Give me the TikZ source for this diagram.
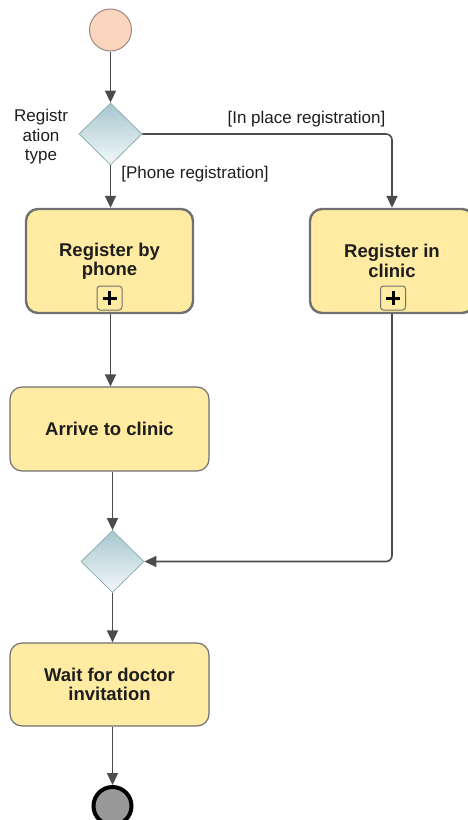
\documentclass[tikz,border=0pt]{standalone}
\usepackage{fontspec}
\setmainfont{Liberation Sans}
\usetikzlibrary{arrows.meta,shapes.geometric}
\definecolor{taskfill}{HTML}{FFEBA2}
\definecolor{taskline}{HTML}{707070}
\definecolor{gwtop}{HTML}{A7C7CF}
\definecolor{gwbot}{HTML}{F3F8F9}
\definecolor{gwline}{HTML}{8FAEB5}
\definecolor{startfill}{HTML}{FBD5BE}
\definecolor{startline}{HTML}{9A8A80}
\definecolor{flow}{HTML}{4C4C4C}
\definecolor{txt}{HTML}{1E1E1E}
\tikzset{
  tasktext/.style={font=\bfseries\fontsize{18.5}{19.5}\selectfont, text=txt, align=center},
  taskthick/.style={tasktext, draw=taskline, fill=taskfill, line width=2.4pt, rounded corners=12pt, minimum height=104pt},
  taskthin/.style={tasktext, draw=taskline, fill=taskfill, line width=1.2pt, rounded corners=12pt, minimum width=199pt, minimum height=84pt},
  gateway/.style={diamond, aspect=1, inner sep=0pt, minimum width=63pt, minimum height=62pt, draw=gwline, line width=0.8pt, top color=gwtop, bottom color=gwbot},
  plusbox/.style={draw=taskline, fill=taskfill, line width=1pt, rounded corners=3pt, minimum width=25pt, minimum height=24pt, inner sep=0pt},
  flowline/.style={draw=flow, line width=1.6pt, -{Triangle[length=12pt,width=11pt]}},
  guard/.style={font=\fontsize{17}{19}\selectfont, text=txt, inner sep=0pt}
}
\begin{document}
\begin{tikzpicture}[x=1pt,y=-1pt]
\useasboundingbox (0,0) rectangle (467,820);
% start and end
\node[circle, draw=startline, fill=startfill, line width=1pt, minimum size=42pt, inner sep=0pt] (start) at (110.5,30) {};
\node[circle, draw=black, fill=gray!80, line width=4pt, minimum size=38pt, inner sep=0pt] (end) at (112.5,806) {};
% gateways
\node[gateway] (d1) at (110.5,134) {};
\node[gateway] (d2) at (112.5,561.5) {};
\node[guard, align=center, font=\fontsize{17}{19.5}\selectfont] (dlabel) at (41,137) {Registr\\ation\\type};
% tasks
\node[taskthick, minimum width=167pt] (phone) at (109.5,261) {Register by\\phone};
\node[taskthick, minimum width=164pt] (clinic) at (392,261) {Register in\\clinic};
\node[taskthin] (arrive) at (109.5,429) {Arrive to clinic};
\node[taskthin, minimum height=83pt] (wait) at (109.5,684.5) {Wait for doctor\\invitation};
% plus markers
\node[plusbox] (plus1) at (109.5,298) {};
\node[plusbox] (plus2) at (393,298) {};
\foreach \p in {plus1,plus2}{
  \draw[line width=3pt, black] ([xshift=-7pt]\p.center) -- ([xshift=7pt]\p.center);
  \draw[line width=3pt, black] ([yshift=-7pt]\p.center) -- ([yshift=7pt]\p.center);
}
% flows
\draw[flowline] (start.south) -- (d1.north);
\draw[flowline] (d1.south) -- (d1.south |- phone.north);
\draw[flowline, rounded corners=6pt] (d1.east) -| (clinic.north);
\draw[flowline] (phone.south -| d1.south) -- (d1.south |- arrive.north);
\draw[flowline] (d2.north |- arrive.south) -- (d2.north);
\draw[flowline, rounded corners=6pt] (clinic.south) |- (d2.east);
\draw[flowline] (d2.south) -- (d2.south |- wait.north);
\draw[flowline] (end.north |- wait.south) -- (end.north);
% guards
\node[guard] (g1) at (306.5,119) {[In place registration]};
\node[guard] (g2) at (195,174) {[Phone registration]};
\end{tikzpicture}
\end{document}
